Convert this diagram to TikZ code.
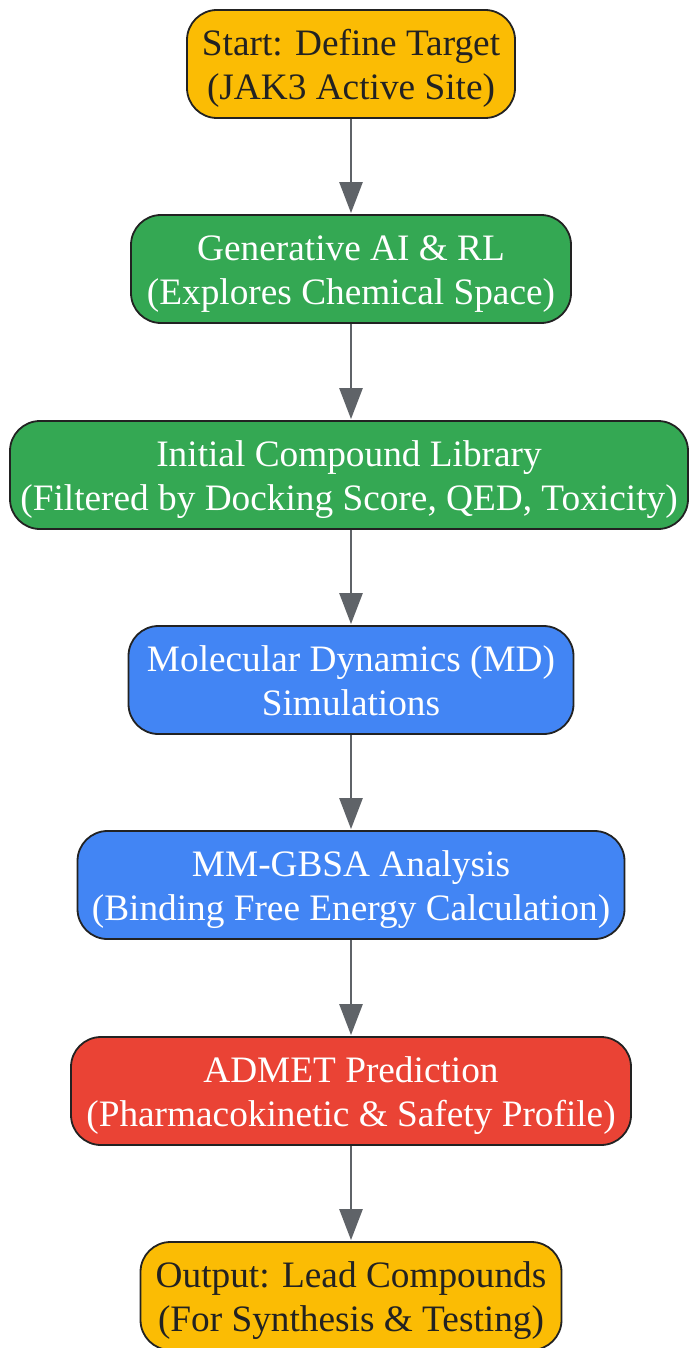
\documentclass[tikz,border=0pt]{standalone}
\usepackage{fontspec}
\setmainfont{Liberation Serif}
\usetikzlibrary{arrows.meta}
\definecolor{cyellow}{HTML}{FBBC04}
\definecolor{cgreen}{HTML}{34A853}
\definecolor{cblue}{HTML}{4285F4}
\definecolor{cred}{HTML}{EA4335}
\definecolor{cborder}{HTML}{222222}
\definecolor{cdark}{HTML}{222222}
\definecolor{carrow}{HTML}{5F6368}
\newcommand{\twolines}[2]{\raisebox{0pt}[\dimexpr\height+10pt\relax]{\begin{tabular}{@{}c@{}}#1\\#2\end{tabular}}}
\tikzset{
  box/.style={draw=cborder, line width=1.8pt, rounded corners=30pt,
    minimum height=108pt, inner sep=0pt, font=\fontsize{37.3}{44}\selectfont},
  yel/.style={box, fill=cyellow, text=cdark},
  grn/.style={box, fill=cgreen, text=white},
  blu/.style={box, fill=cblue, text=white},
  rd/.style={box, fill=cred, text=white},
  conn/.style={draw=carrow, line width=2.6pt, -{Triangle[length=31pt,width=23pt]}, shorten >=1pt}
}
\begin{document}
\begin{tikzpicture}[x=1pt,y=-1pt]
\useasboundingbox (0,0) rectangle (689,1348);
\node[yel, minimum width=328pt] (n1) at (351,64) {\twolines{Start: Define Target}{(JAK3 Active Site)}};
\node[grn, minimum width=440pt] (n2) at (351,269) {\twolines{Generative AI \& RL}{(Explores Chemical Space)}};
\node[grn, minimum width=678pt] (n3) at (349,475) {\twolines{Initial Compound Library}{(Filtered by Docking Score, QED, Toxicity)}};
\node[blu, minimum width=445pt] (n4) at (351,680) {\twolines{Molecular Dynamics (MD)}{Simulations}};
\node[blu, minimum width=547pt] (n5) at (351,885) {\twolines{MM-GBSA Analysis}{(Binding Free Energy Calculation)}};
\node[rd, minimum width=560pt] (n6) at (351,1091) {\twolines{ADMET Prediction}{(Pharmacokinetic \& Safety Profile)}};
\node[yel, minimum width=421pt] (n7) at (351,1296) {\twolines{Output: Lead Compounds}{(For Synthesis \& Testing)}};
\draw[conn] (n1.south -| 351,0) -- (n2.north -| 351,0);
\draw[conn] (n2.south -| 351,0) -- (n3.north -| 351,0);
\draw[conn] (n3.south -| 351,0) -- (n4.north -| 351,0);
\draw[conn] (n4.south -| 351,0) -- (n5.north -| 351,0);
\draw[conn] (n5.south -| 351,0) -- (n6.north -| 351,0);
\draw[conn] (n6.south -| 351,0) -- (n7.north -| 351,0);
\end{tikzpicture}
\end{document}
